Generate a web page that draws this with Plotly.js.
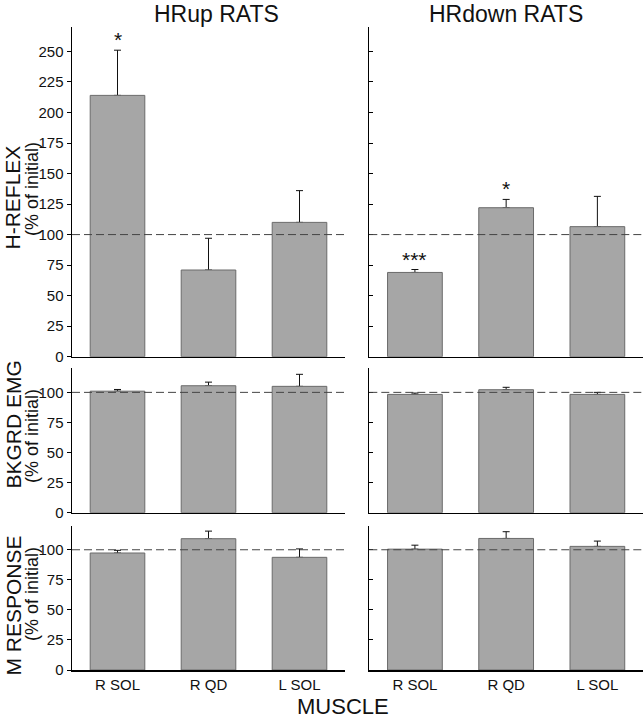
<!DOCTYPE html>
<html>
<head>
<meta charset="utf-8">
<script src="https://cdn.plot.ly/plotly-3.0.1.min.js"></script>
<style>html,body{margin:0;padding:0;background:#fff;}#chart{width:644px;height:720px;}</style>
</head>
<body>
<div id="chart"></div>
<script>
// ---- data ----
const categories = ['R SOL', 'R QD', 'L SOL'];

const hrupHreflex   = [214, 71, 110];
const hrupHreflexSem = [37, 26, 26];
const hrdownHreflex = [69, 122, 106.5];
const hrdownHreflexSem = [2.4, 6.8, 24.8];

const hrupBkgrd   = [101, 105.5, 105];
const hrupBkgrdSem = [1.4, 3, 10];
const hrdownBkgrd = [98.3, 102.2, 98.3];
const hrdownBkgrdSem = [1.1, 2, 1.7];

const hrupMresp   = [97.3, 109.2, 93.7];
const hrupMrespSem = [2.2, 6.3, 7];
const hrdownMresp = [100.5, 109.4, 102.8];
const hrdownMrespSem = [3.3, 5.6, 4.4];

const hrupSig   = ['*', '', ''];
const hrdownSig = ['***', '*', ''];

const baseline = 100;
const hreflexTicks = [0, 25, 50, 75, 100, 125, 150, 175, 200, 225, 250];
const smallTicks = [0, 25, 50, 75, 100];

// ---- styling ----
const FONT = 'Arial, "Liberation Sans", Helvetica, sans-serif';
const barColor = '#a6a6a6';
const barLine = '#6a6a6a';

// error bars (upper only) carried by an unfilled bar trace, then the visible bar drawn over it
function barTraces(vals, sem, xa, ya) {
  return [{
    type: 'bar', x: categories, y: vals, xaxis: xa, yaxis: ya, width: 0.6,
    marker: {color: 'rgba(0,0,0,0)', line: {width: 0}},
    error_y: {type: 'data', symmetric: false, array: sem, arrayminus: sem.map(() => 0),
              color: '#111', thickness: 1, width: 3.5},
    hoverinfo: 'skip'
  }, {
    type: 'bar', x: categories, y: vals, xaxis: xa, yaxis: ya, width: 0.6,
    marker: {color: barColor, line: {color: barLine, width: 1}},
    hoverinfo: 'skip'
  }];
}

const data = [].concat(
  barTraces(hrupHreflex, hrupHreflexSem, 'x', 'y'),
  barTraces(hrdownHreflex, hrdownHreflexSem, 'x2', 'y2'),
  barTraces(hrupBkgrd, hrupBkgrdSem, 'x3', 'y3'),
  barTraces(hrdownBkgrd, hrdownBkgrdSem, 'x4', 'y4'),
  barTraces(hrupMresp, hrupMrespSem, 'x5', 'y5'),
  barTraces(hrdownMresp, hrdownMrespSem, 'x6', 'y6')
);

const W = 644, H = 720, mL = 72, mR = 1, mT = 27, mB = 50;
const pw = W - mL - mR, ph = H - mT - mB;
const px2x = p => (p - mL) / pw;
const py2y = p => (H - mB - p) / ph;

const leftDom = [0, px2x(345)];
const rightDom = [px2x(369.3), 1];
const topDom = [py2y(356.7), 1];
const midDom = [py2y(512.7), py2y(368.3)];
const botDom = [0, py2y(525.7)];

function xAx(dom, anchor, labels) {
  return {domain: dom, anchor: anchor, range: [-0.5, 2.5], type: 'category',
    showline: true, linecolor: '#000', linewidth: 1.5, ticks: '', showgrid: false, zeroline: false,
    showticklabels: labels, tickfont: {family: FONT, size: 15, color: '#111'}, fixedrange: true};
}
function yAx(dom, anchor, range, tv, left) {
  return {domain: dom, anchor: anchor, range: range, tickvals: tv,
    showline: true, linecolor: '#000', linewidth: 1.5, showgrid: false, zeroline: false,
    ticks: left ? 'outside' : 'inside', ticklen: 4, tickwidth: 1, tickcolor: '#000',
    showticklabels: left, tickfont: {family: FONT, size: 15, color: '#111'}, fixedrange: true};
}

const shapes = [];
[['x','y'],['x2','y2'],['x3','y3'],['x4','y4'],['x5','y5'],['x6','y6']].forEach(([xa, ya]) => {
  shapes.push({type: 'line', xref: xa + ' domain', yref: ya, x0: 0, x1: 1, y0: baseline, y1: baseline,
    line: {color: '#444', width: 1, dash: '8px,4px'}, layer: 'above'});
});

const annotations = [];
function addText(text, x, y, size, angle) {
  annotations.push({text: text, xref: 'paper', yref: 'paper', x: px2x(x), y: py2y(y),
    showarrow: false, xanchor: 'center', yanchor: 'middle', textangle: angle || 0,
    font: {family: FONT, size: size, color: '#111'}});
}
addText('HRup RATS', 216, 14, 23);
addText('HRdown RATS', 506, 14, 23);
addText('MUSCLE', 343, 706, 22);
addText('H-REFLEX', 12.5, 198, 21, -90);
addText('(% of initial)', 32, 189, 18, -90);
addText('BKGRD EMG', 12.5, 425, 21, -90);
addText('(% of initial)', 32, 436, 18, -90);
addText('M RESPONSE', 12.5, 606, 21, -90);
addText('(% of initial)', 32, 594, 18, -90);

function addSig(sig, vals, sem, xa, ya) {
  sig.forEach((s, i) => {
    if (!s) return;
    annotations.push({text: s, xref: xa, yref: ya, x: categories[i], y: vals[i] + sem[i],
      showarrow: false, xanchor: 'center', yanchor: 'bottom', yshift: -3,
      font: {family: FONT, size: 21, color: '#111'}});
  });
}
addSig(hrupSig, hrupHreflex, hrupHreflexSem, 'x', 'y');
addSig(hrdownSig, hrdownHreflex, hrdownHreflexSem, 'x2', 'y2');

const layout = {
  width: W, height: H, margin: {l: mL, r: mR, t: mT, b: mB},
  paper_bgcolor: '#fff', plot_bgcolor: '#fff', showlegend: false, barmode: 'overlay',
  font: {family: FONT, color: '#111'},
  xaxis: xAx(leftDom, 'y', false),
  xaxis2: xAx(rightDom, 'y2', false),
  xaxis3: xAx(leftDom, 'y3', false),
  xaxis4: xAx(rightDom, 'y4', false),
  xaxis5: xAx(leftDom, 'y5', true),
  xaxis6: xAx(rightDom, 'y6', true),
  yaxis: yAx(topDom, 'x', [0, 270], hreflexTicks, true),
  yaxis2: yAx(topDom, 'x2', [0, 270], hreflexTicks, false),
  yaxis3: yAx(midDom, 'x3', [0, 120], smallTicks, true),
  yaxis4: yAx(midDom, 'x4', [0, 120], smallTicks, false),
  yaxis5: yAx(botDom, 'x5', [0, 120], smallTicks, true),
  yaxis6: yAx(botDom, 'x6', [0, 120], smallTicks, false),
  shapes: shapes,
  annotations: annotations
};

Plotly.newPlot('chart', data, layout, {displayModeBar: false, staticPlot: true});
</script>
</body>
</html>
